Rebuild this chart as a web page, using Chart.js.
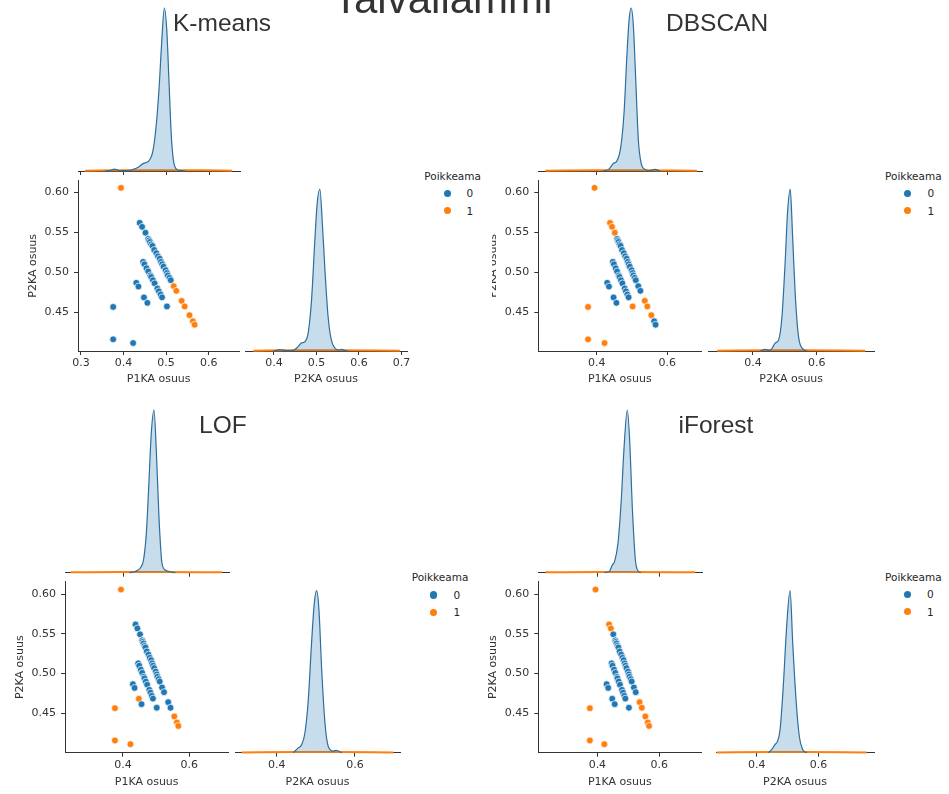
<!DOCTYPE html>
<html><head><meta charset="utf-8">
<script src="https://cdn.jsdelivr.net/npm/chart.js"></script>
<style>
html,body{margin:0;padding:0;background:#fff;}
body{width:949px;height:794px;overflow:hidden;position:relative;font-family:"DejaVu Sans",sans-serif;}
canvas{position:absolute;}
.ttl{position:absolute;font-family:"Liberation Sans",Arial,sans-serif;color:#333;white-space:nowrap;line-height:1;}
.lg{position:absolute;font-family:"DejaVu Sans",sans-serif;font-size:10.5px;color:#262626;line-height:14px;height:14px;white-space:nowrap;}
.dot{position:absolute;width:7.5px;height:7.5px;border-radius:50%;}
</style></head><body>
<script>
const BLUE = '#1f77b4', ORANGE = '#ff7f0e';

// ---- observations (same for every method) ----
const p1kaOsuus = [0.394, 0.438, 0.4436, 0.4515, 0.458, 0.460, 0.462, 0.465, 0.468, 0.472,
  0.477, 0.481, 0.485, 0.488, 0.491, 0.494, 0.499, 0.502, 0.504, 0.508,
  0.511, 0.518, 0.524, 0.5365, 0.5436, 0.555, 0.563, 0.567,
  0.446, 0.449, 0.454, 0.458, 0.463, 0.465, 0.469, 0.473, 0.4795, 0.483, 0.487, 0.4905, 0.502,
  0.430, 0.435, 0.448, 0.456, 0.3757, 0.3757, 0.4225];
const p2kaOsuus = [0.606, 0.562, 0.557, 0.5496, 0.542, 0.540, 0.538, 0.535, 0.533, 0.528,
  0.524, 0.520, 0.517, 0.513, 0.510, 0.507, 0.5026, 0.499, 0.496, 0.493,
  0.490, 0.4825, 0.4766, 0.464, 0.457, 0.446, 0.4384, 0.434,
  0.513, 0.510, 0.505, 0.501, 0.496, 0.494, 0.490, 0.486, 0.4796, 0.476, 0.472, 0.4685, 0.457,
  0.4867, 0.482, 0.4683, 0.4615, 0.4564, 0.4157, 0.411];

// ---- Poikkeama (outlier) labels per method ----
const kmeansLabels  = [1, 0,0,0,0,0,0,0,0,0, 0,0,0,0,0,0,0,0,0,0, 0,1,1,1,1,1,1,1, 0,0,0,0,0,0,0,0,0,0,0,0,0, 0,0,0,0, 0,0,0];
const dbscanLabels  = [1, 1,1,1,0,0,0,0,0,0, 0,0,0,0,0,0,0,0,0,0, 0,0,0,1,1,1,0,0, 0,0,0,0,0,0,0,0,0,0,0,0,1, 0,0,0,0, 1,1,1];
const lofLabels     = [1, 0,0,0,0,0,0,0,0,0, 0,0,0,0,0,0,0,0,0,0, 0,0,0,0,0,1,1,1, 0,0,0,0,0,0,0,0,0,0,0,0,0, 0,0,1,0, 1,1,1];
const iforestLabels = [1, 1,1,0,0,0,0,0,0,0, 0,0,0,0,0,0,0,0,0,0, 0,0,0,1,1,1,1,1, 0,0,0,0,0,0,0,0,0,0,0,0,0, 0,0,0,0, 1,1,1];

// ---- tick labels ----
const kmeansP1Ticks = [0.3, 0.4, 0.5, 0.6];
const kmeansP2Ticks = [0.4, 0.5, 0.6, 0.7];
const otherP1Ticks = [0.4, 0.6];
const otherP2Ticks = [0.4, 0.6];
const scatterYTicks = [0.45, 0.50, 0.55, 0.60];

// ---- density curves (relative height) ----
const kmeansP1KdeX = [0.355, 0.368, 0.378, 0.39, 0.41, 0.4225, 0.435, 0.446, 0.458, 0.468, 0.4756, 0.483, 0.489, 0.495, 0.5007, 0.506, 0.511, 0.516, 0.524, 0.536, 0.545];
const kmeansP1KdeY = [0, 0.004, 0.012, 0.003, 0.002, 0.01, 0.025, 0.047, 0.06, 0.12, 0.27, 0.52, 0.80, 1.0, 0.865, 0.54, 0.23, 0.07, 0.01, 0.002, 0];
const kmeansP1OutX = [0.309, 0.40, 0.50, 0.58, 0.653];
const kmeansP1OutY = [0.002, 0.004, 0.004, 0.004, 0.002];
const kmeansP2KdeX = [0.398, 0.414, 0.43, 0.445, 0.457, 0.465, 0.473, 0.4805, 0.4885, 0.496, 0.5017, 0.508, 0.5143, 0.52, 0.5275, 0.535, 0.543, 0.552, 0.559, 0.566, 0.574];
const kmeansP2KdeY = [0, 0.008, 0.002, 0.004, 0.027, 0.05, 0.057, 0.11, 0.315, 0.67, 0.91, 1.0, 0.77, 0.5, 0.21, 0.068, 0.02, 0.006, 0.01, 0.004, 0];
const kmeansP2OutX = [0.3515, 0.45, 0.55, 0.696];
const kmeansP2OutY = [0.002, 0.004, 0.004, 0.002];

const dbscanP1KdeX = [0.418, 0.433, 0.447, 0.456, 0.4676, 0.477, 0.4845, 0.491, 0.4966, 0.503, 0.51, 0.517, 0.525, 0.536, 0.55, 0.564, 0.578];
const dbscanP1KdeY = [0, 0.01, 0.047, 0.06, 0.15, 0.37, 0.70, 0.93, 1.0, 0.89, 0.54, 0.19, 0.047, 0.01, 0.003, 0.01, 0];
const dbscanP1OutX = [0.2545, 0.40, 0.50, 0.682];
const dbscanP1OutY = [0.002, 0.004, 0.004, 0.002];
const dbscanP2KdeX = [0.423, 0.4384, 0.45, 0.459, 0.47, 0.48, 0.4906, 0.501, 0.508, 0.5166, 0.524, 0.532, 0.5425, 0.558, 0.57];
const dbscanP2KdeY = [0, 0.01, 0.004, 0.015, 0.05, 0.067, 0.21, 0.56, 0.85, 1.0, 0.71, 0.36, 0.09, 0.01, 0];
const dbscanP2OutX = [0.2875, 0.45, 0.55, 0.751];
const dbscanP2OutY = [0.002, 0.004, 0.004, 0.002];

const lofP1KdeX = [0.418, 0.4385, 0.4536, 0.4606, 0.469, 0.4767, 0.484, 0.492, 0.499, 0.507, 0.516, 0.527, 0.5445, 0.556];
const lofP1KdeY = [0, 0.01, 0.037, 0.078, 0.24, 0.55, 0.86, 1.0, 0.75, 0.34, 0.058, 0.015, 0.005, 0];
const lofP1OutX = [0.2415, 0.40, 0.50, 0.696];
const lofP1OutY = [0.002, 0.004, 0.004, 0.002];
const lofP2KdeX = [0.4425, 0.4536, 0.464, 0.472, 0.4807, 0.489, 0.496, 0.502, 0.508, 0.515, 0.5234, 0.532, 0.5446, 0.553, 0.566];
const lofP2KdeY = [0, 0.027, 0.05, 0.12, 0.325, 0.675, 0.92, 1.0, 0.88, 0.51, 0.18, 0.037, 0.01, 0.015, 0];
const lofP2OutX = [0.3106, 0.45, 0.55, 0.698];
const lofP2OutY = [0.002, 0.004, 0.004, 0.002];

const iforestP1KdeX = [0.4217, 0.438, 0.4467, 0.454, 0.465, 0.4757, 0.484, 0.495, 0.5027, 0.5115, 0.521, 0.53, 0.538];
const iforestP1KdeY = [0, 0.01, 0.047, 0.068, 0.18, 0.45, 0.75, 1.0, 0.81, 0.385, 0.078, 0.01, 0];
const iforestP1OutX = [0.2327, 0.40, 0.50, 0.7134];
const iforestP1OutY = [0.002, 0.004, 0.004, 0.002];
const iforestP2KdeX = [0.438, 0.4486, 0.459, 0.467, 0.4755, 0.486, 0.497, 0.508, 0.5167, 0.5274, 0.538, 0.549, 0.562];
const iforestP2KdeY = [0, 0.02, 0.05, 0.07, 0.14, 0.41, 0.78, 1.0, 0.675, 0.325, 0.1, 0.02, 0];
const iforestP2OutX = [0.2703, 0.45, 0.55, 0.757];
const iforestP2OutY = [0.002, 0.004, 0.004, 0.002];

// ---------------------------------------------------------------
const TICK_FONT = {family: 'DejaVu Sans', size: 11};
const LABEL_FONT = {family: 'DejaVu Sans', size: 11, lineHeight: 1.2};

function place(l, t, w, h) {
  const c = document.createElement('canvas');
  c.width = Math.round(w); c.height = Math.round(h);
  c.style.left = l + 'px'; c.style.top = t + 'px';
  c.style.width = Math.round(w) + 'px'; c.style.height = Math.round(h) + 'px';
  document.body.appendChild(c);
  return c;
}

function xAxis(min, max, ticks, showLabels, digits, title, axisH, titlePadBottom) {
  return {
    type: 'linear', position: 'bottom', min, max,
    afterBuildTicks: s => { s.ticks = ticks.map(v => ({value: v})); },
    afterFit: s => { s.height = axisH; s.paddingLeft = 0; s.paddingRight = 0; s.paddingTop = 0; s.paddingBottom = 0; },
    grid: {display: true, drawOnChartArea: false, drawTicks: true, tickLength: 4, tickColor: '#333', tickWidth: 1},
    border: {display: true, color: '#333', width: 1},
    ticks: {display: showLabels, padding: 2, color: '#333', font: TICK_FONT, autoSkip: false, maxRotation: 0,
      callback: v => Number(v).toFixed(digits)},
    title: {display: !!title, text: title || '', color: '#333', font: LABEL_FONT, padding: {top: 0, bottom: titlePadBottom || 0}}
  };
}

function yAxis(min, max, ticks, title, axisW, titlePadTop) {
  return {
    type: 'linear', position: 'left', min, max,
    afterBuildTicks: s => { s.ticks = ticks.map(v => ({value: v})); },
    afterFit: s => { s.width = axisW; s.paddingLeft = 0; s.paddingRight = 0; s.paddingTop = 0; s.paddingBottom = 0; },
    grid: {display: true, drawOnChartArea: false, drawTicks: true, tickLength: 4, tickColor: '#333', tickWidth: 1},
    border: {display: true, color: '#333', width: 1},
    ticks: {padding: 5, color: '#333', font: TICK_FONT, autoSkip: false, callback: v => Number(v).toFixed(2)},
    title: {display: true, text: title, color: '#333', font: LABEL_FONT, padding: {top: titlePadTop, bottom: 0}}
  };
}

function scatterChart(o) {
  const [cl, ct, cr, cb] = o.canvas, [al, at, ar, ab] = o.area;
  const c = place(cl, ct, cr - cl, cb - ct);
  const cols = o.labels.map(l => l ? ORANGE : BLUE);
  new Chart(c, {
    type: 'scatter',
    data: {datasets: [{
      data: p1kaOsuus.map((v, i) => ({x: v, y: p2kaOsuus[i]})),
      backgroundColor: cols, pointBackgroundColor: cols,
      pointBorderColor: '#ffffff', pointBorderWidth: 0.7, pointRadius: 3.4, clip: 6
    }]},
    options: {
      responsive: false, animation: false, devicePixelRatio: 1,
      layout: {padding: {left: 0, top: at - ct, right: cr - ar, bottom: 0}},
      plugins: {legend: {display: false}, tooltip: {enabled: false}},
      scales: {
        x: xAxis(o.xr[0], o.xr[1], o.xticks, true, 1, 'P1KA osuus', cb - ab, o.xTitlePad),
        y: yAxis(o.yr[0], o.yr[1], scatterYTicks, 'P2KA osuus', al - cl, o.yTitlePad)
      }
    }
  });
}

function kdeChart(o) {
  const [cl, ct, cr, cb] = o.canvas, [al, at, ar, ab] = o.area;
  const c = place(cl, ct, cr - cl, cb - ct);
  new Chart(c, {
    type: 'line',
    data: {datasets: [
      {data: o.bx.map((v, i) => ({x: v, y: o.by[i]})), borderColor: '#2b6e9f', borderWidth: 1.2,
       backgroundColor: 'rgba(31,119,180,0.25)', fill: 'origin', pointRadius: 0, cubicInterpolationMode: 'monotone', clip: 4},
      {data: o.ox.map((v, i) => ({x: v, y: o.oy[i]})), borderColor: ORANGE, borderWidth: 2,
       backgroundColor: 'rgba(255,127,14,0.25)', fill: 'origin', pointRadius: 0, cubicInterpolationMode: 'monotone', clip: 4}
    ]},
    options: {
      responsive: false, animation: false, devicePixelRatio: 1,
      layout: {padding: {left: al - cl, top: at - ct, right: cr - ar, bottom: 0}},
      plugins: {legend: {display: false}, tooltip: {enabled: false}},
      scales: {
        x: xAxis(o.xr[0], o.xr[1], o.xticks, o.showLabels, 1, o.title, cb - ab, o.xTitlePad),
        y: {display: false, min: 0, max: 1}
      }
    }
  });
}

function text(cls, str, left, top, size) {
  const d = document.createElement('div');
  d.className = cls; d.textContent = str;
  d.style.left = left + 'px'; d.style.top = top + 'px';
  if (size) d.style.fontSize = size + 'px';
  document.body.appendChild(d);
}
function legend(tx, ty, mx, lx, y0, y1) {
  text('lg', 'Poikkeama', tx, ty - 7);
  [[y0, BLUE, '0'], [y1, ORANGE, '1']].forEach(([y, col, s]) => {
    const d = document.createElement('div');
    d.className = 'dot'; d.style.background = col;
    d.style.left = (mx - 3.75) + 'px'; d.style.top = (y - 3.75) + 'px';
    document.body.appendChild(d);
    text('lg', s, lx, y - 7);
  });
}

// ---------------- K-means ----------------
kdeChart({canvas: [76, 0, 242, 176], area: [78, 8, 240, 171], xr: [0.293, 0.672], xticks: kmeansP1Ticks, showLabels: false,
  bx: kmeansP1KdeX, by: kmeansP1KdeY, ox: kmeansP1OutX, oy: kmeansP1OutY});
scatterChart({canvas: [20, 175, 244, 392], area: [78, 180.7, 240, 351], xr: [0.293, 0.672], yr: [0.401, 0.615],
  xticks: kmeansP1Ticks, labels: kmeansLabels, xTitlePad: 6.1, yTitlePad: 6.4});
kdeChart({canvas: [243, 185, 412, 392], area: [245, 189, 407, 351], xr: [0.332, 0.713], xticks: kmeansP2Ticks, showLabels: true,
  title: 'P2KA osuus', xTitlePad: 6.1, bx: kmeansP2KdeX, by: kmeansP2KdeY, ox: kmeansP2OutX, oy: kmeansP2OutY});
legend(424.3, 175.5, 447.3, 466.5, 193.3, 210.7);

// ---------------- DBSCAN ----------------
kdeChart({canvas: [536, 0, 704, 176], area: [538.3, 8, 702, 171], xr: [0.2347, 0.6966], xticks: otherP1Ticks, showLabels: false,
  bx: dbscanP1KdeX, by: dbscanP1KdeY, ox: dbscanP1OutX, oy: dbscanP1OutY});
scatterChart({canvas: [492, 175, 706, 392], area: [538.3, 180.7, 702, 351], xr: [0.2347, 0.6966], yr: [0.401, 0.615],
  xticks: otherP1Ticks, labels: dbscanLabels, xTitlePad: 6.1, yTitlePad: -5.6});
kdeChart({canvas: [706, 185, 880, 392], area: [708.3, 189, 874, 351], xr: [0.260, 0.779], xticks: otherP2Ticks, showLabels: true,
  title: 'P2KA osuus', xTitlePad: 6.1, bx: dbscanP2KdeX, by: dbscanP2KdeY, ox: dbscanP2OutX, oy: dbscanP2OutY});
legend(885, 175.7, 907.3, 927.5, 193.3, 210.7);

// ---------------- LOF ----------------
kdeChart({canvas: [63, 400, 231, 578], area: [65, 410, 229.3, 572.7], xr: [0.225, 0.718], xticks: otherP1Ticks, showLabels: false,
  bx: lofP1KdeX, by: lofP1KdeY, ox: lofP1OutX, oy: lofP1OutY});
scatterChart({canvas: [7, 576, 233, 794], area: [65, 581.7, 229.3, 752.7], xr: [0.225, 0.718], yr: [0.4003, 0.6159],
  xticks: otherP1Ticks, labels: lofLabels, xTitlePad: 5.7, yTitlePad: 6.4});
kdeChart({canvas: [233, 586, 406, 794], area: [235, 590.7, 400, 752.7], xr: [0.2935, 0.715], xticks: otherP2Ticks, showLabels: true,
  title: 'P2KA osuus', xTitlePad: 5.7, bx: lofP2KdeX, by: lofP2KdeY, ox: lofP2OutX, oy: lofP2OutY});
legend(411.7, 577.3, 433.3, 453.5, 595, 612.3);

// ---------------- iForest ----------------
kdeChart({canvas: [536, 400, 704, 578], area: [538.3, 410, 702.3, 572.7], xr: [0.209, 0.736], xticks: otherP1Ticks, showLabels: false,
  bx: iforestP1KdeX, by: iforestP1KdeY, ox: iforestP1OutX, oy: iforestP1OutY});
scatterChart({canvas: [480, 576, 706, 794], area: [538.3, 581.7, 702.3, 752.7], xr: [0.209, 0.736], yr: [0.4003, 0.6159],
  xticks: otherP1Ticks, labels: iforestLabels, xTitlePad: 5.7, yTitlePad: 6.7});
kdeChart({canvas: [714, 586, 880, 794], area: [716, 590.7, 874, 752.7], xr: [0.268, 0.78], xticks: otherP2Ticks, showLabels: true,
  title: 'P2KA osuus', xTitlePad: 5.7, bx: iforestP2KdeX, by: iforestP2KdeY, ox: iforestP2OutX, oy: iforestP2OutY});
legend(885, 577.3, 907.3, 927, 594.3, 611.7);

// ---------------- titles ----------------
text('ttl', 'Taivallammi', 333, -22.5, 42);
text('ttl', 'K-means', 173, 11, 24.5);
text('ttl', 'DBSCAN', 666, 11, 24.5);
text('ttl', 'LOF', 199, 413, 24.5);
text('ttl', 'iForest', 678.5, 413, 24.5);
</script>
</body></html>
